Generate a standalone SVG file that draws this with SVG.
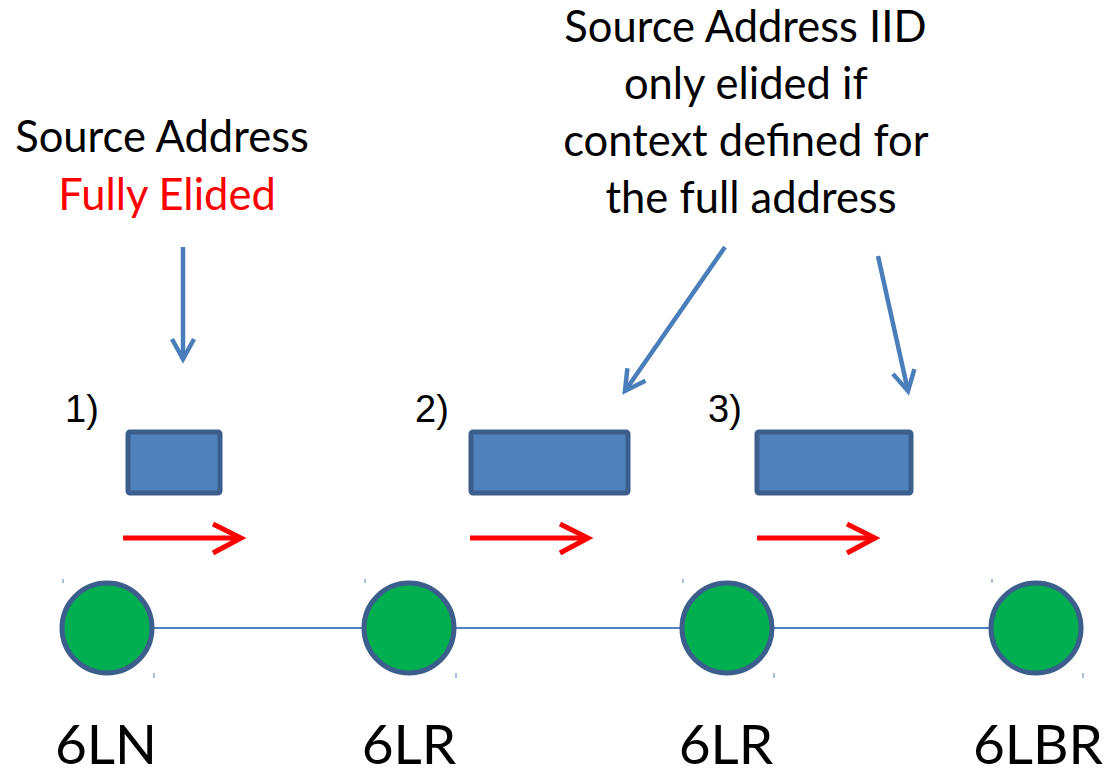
<svg xmlns="http://www.w3.org/2000/svg" width="1105" height="775" viewBox="0 0 1105 775">
<style>
.t{font-family:Lato,"Open Sans",sans-serif;fill:#000}
.big{font-size:43.5px}
.lbl{font-size:55px}
.num{font-family:"Liberation Sans",Arial,sans-serif;font-size:38px;fill:#000}
.node{fill:#00b050;stroke:#3b5e8c;stroke-width:5}
.pkt{fill:#4f81bd;stroke:#3b5e8c;stroke-width:5}
.link{stroke:#4f81bd;stroke-width:2;fill:none}
.call{stroke:#4a7ebb;stroke-width:4.5;fill:none}
.red{stroke:#ff0000;stroke-width:5;fill:none}
.tick{stroke:#4f81bd;stroke-width:1}
</style>
<defs>
<marker id="ah" markerUnits="userSpaceOnUse" markerWidth="30" markerHeight="30" refX="22" refY="12" orient="auto" viewBox="0 0 30 24">
<path d="M2,1 L22,12 L2,23" fill="none" stroke="#4a7ebb" stroke-width="4.5"/>
</marker>
</defs>
<g id="connectors">
<line class="link" x1="152" y1="628" x2="364" y2="628"/>
<line class="link" x1="454" y1="628" x2="682" y2="628"/>
<line class="link" x1="772" y1="628" x2="991" y2="628"/>
<line class="call" x1="183" y1="247" x2="183" y2="359" marker-end="url(#ah)"/>
<line class="call" x1="725" y1="247" x2="625" y2="391" marker-end="url(#ah)"/>
<line class="call" x1="878" y1="256" x2="908" y2="391" marker-end="url(#ah)"/>
</g>
<g id="flow1"><line class="red" x1="123" y1="538" x2="238" y2="538"/><path class="red" d="M213,524 L241,538 L213,553"/></g>
<g id="flow2"><line class="red" x1="470" y1="538" x2="585" y2="538"/><path class="red" d="M560,524 L588,538 L560,553"/></g>
<g id="flow3"><line class="red" x1="757" y1="538" x2="872" y2="538"/><path class="red" d="M847,524 L875,538 L847,553"/></g>
<g id="pkt1"><rect class="pkt" x="128" y="432" width="92" height="61" rx="2"/><text class="num" x="65" y="422">1)</text></g>
<g id="pkt2"><rect class="pkt" x="471" y="432" width="157" height="61" rx="2"/><text class="num" x="415" y="422">2)</text></g>
<g id="pkt3"><rect class="pkt" x="757" y="432" width="154" height="61" rx="2"/><text class="num" x="708" y="422">3)</text></g>
<g id="n1"><circle class="node" cx="107" cy="628" r="45"/><text class="t lbl" x="106" y="764" text-anchor="middle">6LN</text>
<line class="tick" x1="63" y1="579" x2="63" y2="583"/><line class="tick" x1="154" y1="673" x2="154" y2="678"/></g>
<g id="n2"><circle class="node" cx="409" cy="628" r="45"/><text class="t lbl" x="409" y="764" text-anchor="middle">6LR</text>
<line class="tick" x1="365" y1="579" x2="365" y2="583"/><line class="tick" x1="456" y1="673" x2="456" y2="678"/></g>
<g id="n3"><circle class="node" cx="727" cy="628" r="45"/><text class="t lbl" x="726" y="764" text-anchor="middle">6LR</text>
<line class="tick" x1="683" y1="579" x2="683" y2="583"/><line class="tick" x1="774" y1="673" x2="774" y2="678"/></g>
<g id="n4"><circle class="node" cx="1036" cy="628" r="45"/><text class="t lbl" x="1038" y="764" text-anchor="middle">6LBR</text>
<line class="tick" x1="992" y1="579" x2="992" y2="583"/><line class="tick" x1="1083" y1="673" x2="1083" y2="678"/></g>
<g id="note1"><text class="t big" x="162" y="152" text-anchor="middle">Source Address</text>
<text class="t big" x="167" y="210" text-anchor="middle" style="fill:#ff0000">Fully Elided</text></g>
<g id="note2"><text class="t big" text-anchor="middle">
<tspan x="751" y="42">Source Address IID</tspan>
<tspan x="751" y="99">only elided if</tspan>
<tspan x="751" y="156">context defined for</tspan>
<tspan x="751" y="213">the full address</tspan></text></g>
</svg>
